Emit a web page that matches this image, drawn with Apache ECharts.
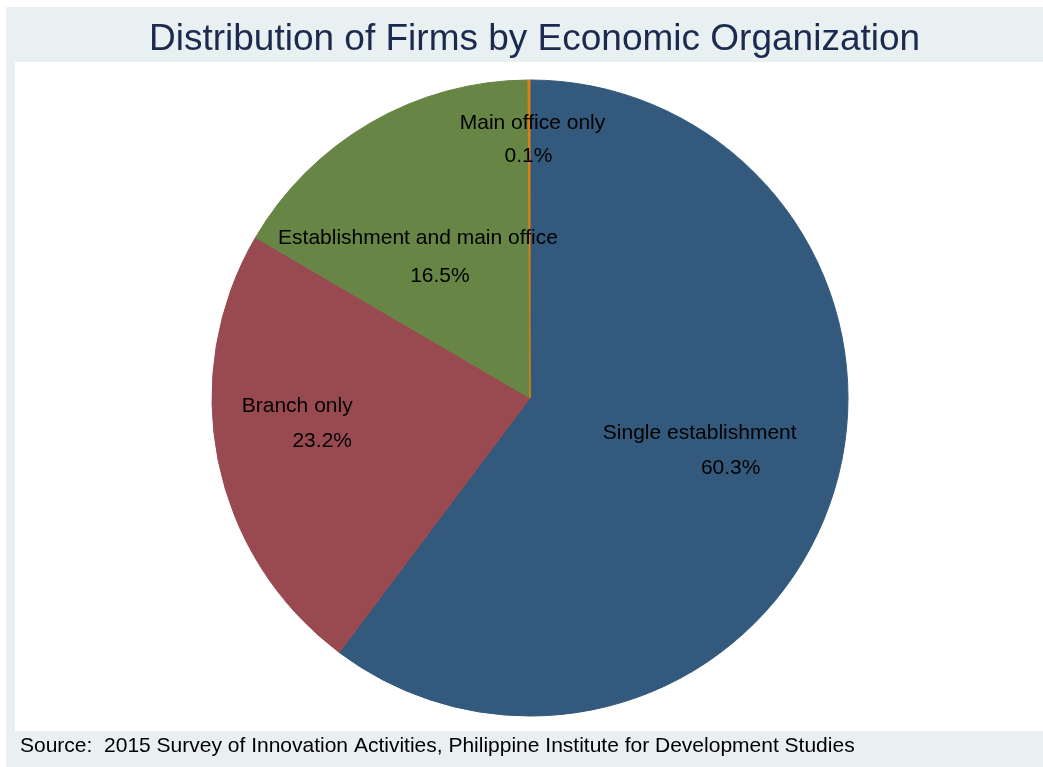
<!DOCTYPE html>
<html>
<head>
<meta charset="utf-8">
<script src="https://cdn.jsdelivr.net/npm/echarts@6/dist/echarts.min.js"></script>
<style>
  html, body { margin: 0; padding: 0; background: #fff; }
  #pieChart { width: 1043px; height: 767px; }
</style>
</head>
<body>
<div id="pieChart"></div>
<script>
// data
const categories = ['Single establishment', 'Branch only', 'Establishment and main office', 'Main office only'];
const shares = [60.3, 23.2, 16.5, 0.1];

// styling
const sliceColors = ['#335a7c', '#994a50', '#678544', '#e0800a'];
const nameOffsets = [[16, -16], [-74, -24], [-31, -20], [3, -113]];
const pctOffsets = [[47, 19], [-49, 11], [-9, 18], [-1, -80]];

const chartDom = document.querySelector('#pieChart');
const myChart = echarts.init(chartDom, null, { renderer: 'canvas' });

const font = '"Liberation Sans", Arial, sans-serif';

const buildData = (offsets, transparent) => categories.map((name, i) => ({
  name: name,
  value: shares[i],
  itemStyle: transparent
    ? { color: 'rgba(0,0,0,0)', borderWidth: 0 }
    : { color: sliceColors[i], borderColor: sliceColors[i], borderWidth: 1 },
  label: { offset: offsets[i] }
}));

const pieBase = {
  type: 'pie',
  center: [530, 398],
  radius: [0, 318],
  startAngle: 90,
  clockwise: true,
  avoidLabelOverlap: false,
  labelLine: { show: false },
  emphasis: { disabled: true },
  animation: false
};

myChart.setOption({
  backgroundColor: '#ffffff',
  animation: false,
  title: {
    text: 'Distribution of Firms by Economic Organization',
    left: 149,
    top: 21,
    padding: 0,
    textStyle: {
      color: '#1c2a4f',
      fontSize: 37,
      fontWeight: 'normal',
      fontFamily: font
    }
  },
  graphic: [
    {
      type: 'rect',
      z: -10,
      shape: { x: 6, y: 7, width: 1037, height: 760 },
      style: { fill: '#e8f0f2' }
    },
    {
      type: 'rect',
      z: -9,
      shape: { x: 15, y: 62, width: 1028, height: 669 },
      style: { fill: '#ffffff' }
    },
    {
      type: 'text',
      left: 20,
      top: 736,
      style: {
        text: 'Source:  2015 Survey of Innovation Activities, Philippine Institute for Development Studies',
        fill: '#000',
        font: '21px ' + font
      }
    }
  ],
  series: [
    Object.assign({}, pieBase, {
      name: 'Slices',
      data: buildData(nameOffsets, false),
      label: {
        show: true,
        position: 'inside',
        formatter: '{b}',
        color: '#000',
        fontSize: 21,
        fontFamily: font
      }
    }),
    Object.assign({}, pieBase, {
      name: 'Percent',
      silent: true,
      data: buildData(pctOffsets, true),
      label: {
        show: true,
        position: 'inside',
        formatter: (p) => shares[p.dataIndex].toFixed(1) + '%',
        color: '#000',
        fontSize: 21,
        fontFamily: font
      }
    })
  ]
});

window.addEventListener('resize', () => {
  myChart.resize();
});
</script>
</body>
</html>
